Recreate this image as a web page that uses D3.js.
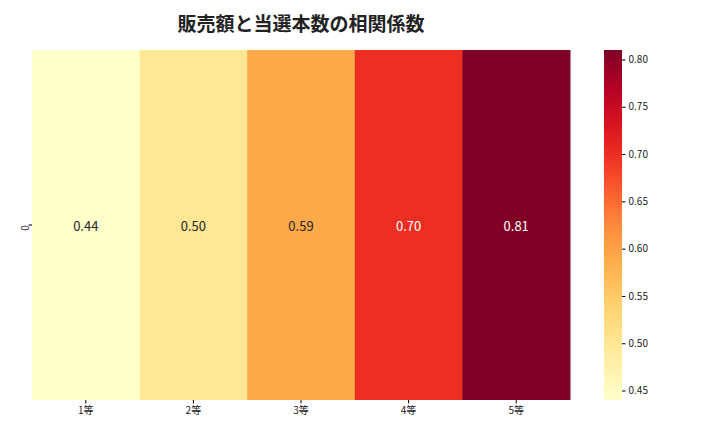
<!DOCTYPE html>
<html><head><meta charset="utf-8">
<script src="https://cdn.jsdelivr.net/npm/d3@7"></script>
<style>body{margin:0;background:#fff}text{font-family:"Noto Sans CJK JP","Noto Sans",sans-serif}</style>
</head><body><div id="chart"></div>
<script>
const categories = ["1等", "2等", "3等", "4等", "5等"];
const values = [0.44, 0.50, 0.59, 0.70, 0.81];
const rowLabels = ["0"];
const cbTicks = [0.45, 0.50, 0.55, 0.60, 0.65, 0.70, 0.75, 0.80];

const W = 720, H = 432;
const m = {left: 32, right: 570, top: 50, bottom: 400};
const svg = d3.select('#chart').append('svg').attr('width', W).attr('height', H);

const x = d3.scaleBand().domain(categories).range([m.left, m.right]);
const y = d3.scaleBand().domain(rowLabels).range([m.top, m.bottom]);
const vmin = d3.min(values), vmax = d3.max(values);
const color = d3.scaleSequential(d3.interpolateYlOrRd).domain([vmin, vmax]);

svg.selectAll('rect.cell').data(values).join('rect')
  .attr('x', (d, i) => x(categories[i])).attr('y', y('0'))
  .attr('width', x.bandwidth() + 0.5).attr('height', y.bandwidth())
  .attr('fill', d => color(d));

svg.selectAll('text.val').data(values).join('text')
  .attr('x', (d, i) => x(categories[i]) + x.bandwidth() / 2)
  .attr('y', y('0') + y.bandwidth() / 2)
  .attr('text-anchor', 'middle').attr('dominant-baseline', 'central')
  .attr('font-size', 13)
  .attr('fill', d => (d - vmin) / (vmax - vmin) > 0.6 ? '#fff' : '#262626')
  .text(d => d.toFixed(2));

const xa = svg.append('g').attr('transform', `translate(0,${m.bottom})`)
  .call(d3.axisBottom(x).tickSize(3.5));
xa.select('.domain').remove();
xa.selectAll('text').attr('font-size', 10).attr('fill', '#222');

const ya = svg.append('g').attr('transform', `translate(${m.left},0)`)
  .call(d3.axisLeft(y).tickSize(3.5));
ya.select('.domain').remove();
ya.selectAll('text').attr('font-size', 10).attr('fill', '#222')
  .attr('transform', function () { return `rotate(-90,${this.getAttribute('x')},${this.getAttribute('y') || 0})`; })
  .attr('text-anchor', 'middle').attr('dy', '0.32em').attr('dx', '-0.3em');

// colorbar
const cbX = 604, cbW = 18;
const cy = d3.scaleLinear().domain([vmin, vmax]).range([m.bottom, m.top]);
const defs = svg.append('defs');
const grad = defs.append('linearGradient').attr('id', 'g').attr('x1', 0).attr('y1', 1).attr('x2', 0).attr('y2', 0);
d3.range(0, 1.01, 0.05).forEach(t => grad.append('stop').attr('offset', t).attr('stop-color', d3.interpolateYlOrRd(t)));
svg.append('rect').attr('x', cbX).attr('y', m.top).attr('width', cbW).attr('height', m.bottom - m.top).attr('fill', 'url(#g)');
const ca = svg.append('g').attr('transform', `translate(${cbX + cbW},0)`)
  .call(d3.axisRight(cy).tickValues(cbTicks).tickFormat(d3.format('.2f')).tickSize(3.5));
ca.select('.domain').remove();
ca.selectAll('text').attr('font-size', 10).attr('fill', '#222');

svg.append('text').attr('x', (m.left + m.right) / 2).attr('y', 31)
  .attr('text-anchor', 'middle').attr('font-size', 19).attr('font-weight', 'bold').attr('fill', '#222')
  .text('販売額と当選本数の相関係数');
</script></body></html>
